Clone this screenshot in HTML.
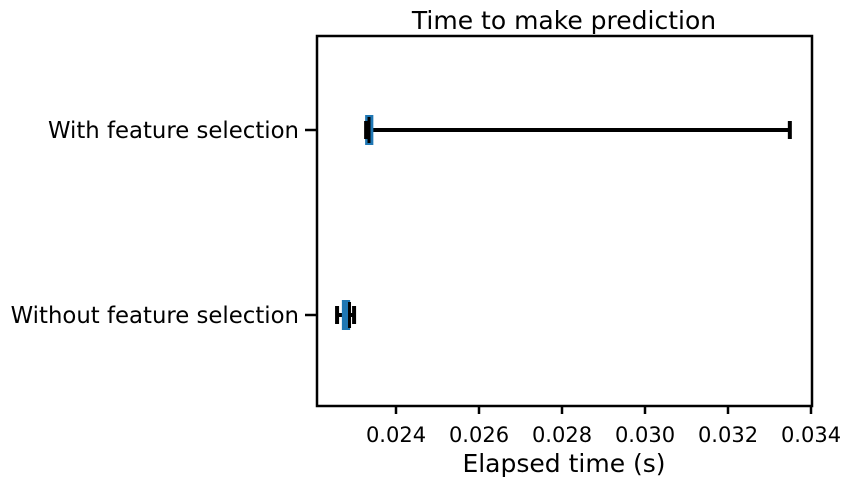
<!DOCTYPE html>
<html><head><meta charset="utf-8"><style>body{margin:0;background:#fff}svg{display:block;font-family:"DejaVu Sans","Liberation Sans",sans-serif}</style></head>
<body>
<svg width="841" height="486" id="chart">
<text x="564" y="29" font-size="25" text-anchor="middle">Time to make prediction</text>
<text x="564" y="472" font-size="25" text-anchor="middle">Elapsed time (s)</text>
<g id="marks"></g>
<rect x="317" y="36" width="495" height="370" fill="none" stroke="#000" stroke-width="2.5"/>
</svg>
<script>
const categories = ["With feature selection", "Without feature selection"];
const whiskerLow = [0.02328, 0.02258];
const q1 = [0.02328, 0.02272];
const median = [0.02335, 0.02288];
const q3 = [0.02343, 0.02287];
const whiskerHigh = [0.03349, 0.02299];
const xTicks = [0.024, 0.026, 0.028, 0.030, 0.032, 0.034];
const xTickLabels = ["0.024","0.026","0.028","0.030","0.032","0.034"];

const NS = "http://www.w3.org/2000/svg";
const g = document.getElementById('marks');
function x(v){ return 396 + (v - 0.024) * 41500; }
function y(i){ return 130 + i * 185; }
function mk(tag, attrs, parent){ const e=document.createElementNS(NS,tag); for(const k in attrs) e.setAttribute(k,attrs[k]); (parent||g).appendChild(e); return e; }

xTicks.forEach((t,i)=>{
  const tk = mk('line',{x1:x(t),x2:x(t),y1:406,y2:414,stroke:'#000','stroke-width':2.5});
  
  
  const lb = mk('text',{x:x(t),y:442,'font-size':21,'text-anchor':'middle'});
  lb.textContent = xTickLabels[i];
  
  
});
categories.forEach((c,i)=>{
  const cy = y(i);
  const tk = mk('line',{x1:305,x2:317,y1:cy,y2:cy,stroke:'#000','stroke-width':2.5});
  
  
  const lb = mk('text',{x:299,y:cy+8,'font-size':22.8,'text-anchor':'end'});
  lb.textContent = c;
  
  
  const h = 30;
  const wl = mk('line',{x1:x(whiskerLow[i]),x2:x(q1[i]),y1:cy,y2:cy,stroke:'#000','stroke-width':4});
  
  
  const wh = mk('line',{x1:x(q3[i]),x2:x(whiskerHigh[i]),y1:cy,y2:cy,stroke:'#000','stroke-width':4});
  
  
  const box = mk('rect',{x:x(q1[i])-1,y:cy-h/2,width:Math.max(2,x(q3[i])-x(q1[i]))+2,height:h,fill:'#1f77b4'});
  
  
  [whiskerLow[i], whiskerHigh[i]].forEach(v=>{
    const cap = mk('line',{x1:x(v),x2:x(v),y1:cy-9,y2:cy+9,stroke:'#000','stroke-width':4});
    
    
  });
  const md = mk('line',{x1:x(median[i]),x2:x(median[i]),y1:cy-h/2+2,y2:cy+h/2-2,stroke:'#000','stroke-width':3});
  
  
});
</script>
</body></html>
